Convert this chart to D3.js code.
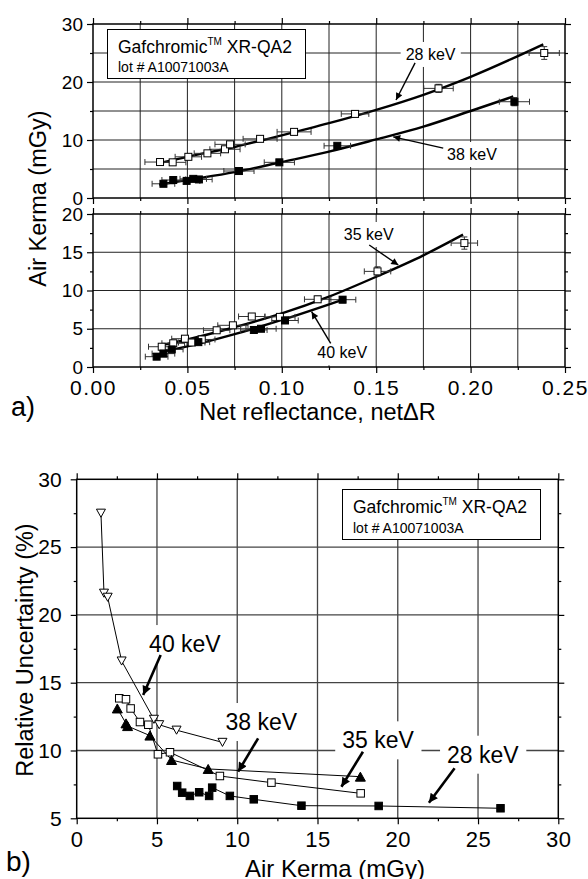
<!DOCTYPE html>
<html><head><meta charset="utf-8">
<script src="https://cdn.jsdelivr.net/npm/d3@7"></script>
<style>body{margin:0;background:#fff}svg{display:block;font-family:"Liberation Sans",Arial,sans-serif}</style>
</head><body><svg id="c" width="588" height="879"></svg>
<script>
// ---------- Panel a) top: Air Kerma vs net reflectance (28 keV, 38 keV) ----------
const a28_x  = [0.0355, 0.0422, 0.0505, 0.0606, 0.0699, 0.0726, 0.0885, 0.1065, 0.1388, 0.1830, 0.2390];
const a28_y  = [6.2, 6.15, 7.1, 7.7, 8.4, 9.25, 10.2, 11.4, 14.5, 18.9, 25.0];
const a28_xe = [0.008, 0.007, 0.007, 0.007, 0.008, 0.008, 0.009, 0.009, 0.0073, 0.0078, 0.008];
const a28_ye = [0.3, 0.3, 0.3, 0.3, 0.3, 0.4, 0.4, 0.4, 0.5, 0.7, 1.1];
const a38_x  = [0.0373, 0.0425, 0.0496, 0.0531, 0.0561, 0.0773, 0.0987, 0.1294, 0.2232];
const a38_y  = [2.45, 3.1, 2.95, 3.3, 3.2, 4.65, 6.15, 9.0, 16.6];
const a38_xe = [0.006, 0.006, 0.007, 0.007, 0.007, 0.008, 0.008, 0.007, 0.008];
const a38_ye = [0.2, 0.2, 0.2, 0.2, 0.2, 0.3, 0.3, 0.4, 0.7];
// fitted curves (samples)
const fit28_x = [0.035, 0.05, 0.075, 0.1, 0.125, 0.15, 0.175, 0.2, 0.2385];
const fit28_y = [6.0, 7.1, 8.8, 10.8, 12.9, 15.2, 17.8, 20.9, 26.5];
const fit38_x = [0.035, 0.05, 0.075, 0.1, 0.125, 0.15, 0.175, 0.2, 0.2226];
const fit38_y = [2.3, 3.1, 4.45, 6.2, 8.0, 10.1, 12.3, 15.0, 17.5];

// ---------- Panel a) bottom: 35 keV, 40 keV ----------
const a35_x  = [0.0364, 0.0425, 0.0487, 0.0523, 0.0576, 0.0655, 0.0741, 0.0841, 0.0990, 0.1190, 0.1507, 0.1967];
const a35_y  = [2.65, 3.1, 3.7, 3.2, 3.6, 4.8, 5.45, 6.6, 6.55, 8.85, 12.5, 16.2];
const a35_xe = [0.007, 0.006, 0.007, 0.007, 0.007, 0.007, 0.008, 0.007, 0.008, 0.007, 0.007, 0.007];
const a35_ye = [0.2, 0.2, 0.2, 0.2, 0.2, 0.3, 0.3, 0.3, 0.3, 0.4, 0.6, 0.8];
const a40_x  = [0.0337, 0.0373, 0.0417, 0.0558, 0.0852, 0.0890, 0.1017, 0.1322];
const a40_y  = [1.35, 1.75, 2.3, 3.25, 4.84, 5.0, 6.08, 8.8];
const a40_xe = [0.006, 0.006, 0.006, 0.006, 0.007, 0.008, 0.007, 0.007];
const a40_ye = [0.15, 0.15, 0.2, 0.2, 0.3, 0.3, 0.3, 0.4];
const fit35_x = [0.037, 0.05, 0.075, 0.1, 0.125, 0.15, 0.175, 0.196];
const fit35_y = [2.9, 3.6, 5.2, 7.0, 9.2, 11.8, 14.6, 17.3];
const fit40_x = [0.037, 0.05, 0.075, 0.1, 0.134];
const fit40_y = [2.0, 2.7, 4.3, 6.15, 8.95];

// ---------- Panel b): relative uncertainty vs air kerma ----------
const b40_x = [1.51, 1.70, 1.93, 2.80, 4.81, 5.14, 6.22, 9.08];
const b40_y = [27.5, 21.6, 21.3, 16.6, 12.3, 11.9, 11.5, 10.6];
const b35_x = [2.53, 3.07, 3.17, 4.56, 5.91, 8.19, 17.67];
const b35_y = [13.1, 12.0, 11.8, 11.1, 9.3, 8.64, 8.07];
const b38_x = [2.65, 3.07, 3.36, 3.94, 4.46, 5.06, 5.81, 8.92, 12.13, 17.69];
const b38_y = [13.85, 13.78, 13.1, 12.1, 11.9, 9.72, 9.87, 8.12, 7.63, 6.84];
const b28_x = [6.26, 6.57, 7.05, 7.63, 8.25, 8.44, 9.54, 11.03, 14.0, 18.81, 26.4];
const b28_y = [7.38, 6.89, 6.65, 6.92, 6.65, 7.26, 6.65, 6.4, 5.93, 5.91, 5.74];

// tick values
const aXTicks = [0, 0.05, 0.10, 0.15, 0.20, 0.25];
const aXTickLabels = ["0.00", "0.05", "0.10", "0.15", "0.20", "0.25"];
const aY1Ticks = [0, 10, 20, 30];
const aY2Ticks = [0, 5, 10, 15, 20];
const bXTicks = [0, 5, 10, 15, 20, 25, 30];
const bYTicks = [5, 10, 15, 20, 25, 30];

// annotations (data units)
const annA = [
  {panel: 1, text: "28 keV", x: 0.1788, y: 23.8, ax: 0.1706, ay: 23.3, tx: 0.1605, ty: 16.9},
  {panel: 1, text: "38 keV", x: 0.2007, y: 6.55, ax: 0.1855, ay: 8.6, tx: 0.159, ty: 10.55},
  {panel: 2, text: "35 keV", x: 0.146, y: 16.6, ax: 0.1463, ay: 15.95, tx: 0.1617, ty: 13.33},
  {panel: 2, text: "40 keV", x: 0.132, y: 1.14, ax: 0.1259, ay: 3.1, tx: 0.1158, ty: 7.23}
];
const annB = [
  {text: "40 keV", x: 6.74, y: 17.26, ax: 5.23, ay: 17.04, tx: 4.14, ty: 14.09},
  {text: "38 keV", x: 11.5, y: 11.51, ax: 11.3, ay: 10.9, tx: 10.06, ty: 8.44},
  {text: "35 keV", x: 18.77, y: 10.16, ax: 17.83, ay: 9.91, tx: 16.49, ty: 7.33},
  {text: "28 keV", x: 25.3, y: 9.1, ax: 23.54, ay: 8.69, tx: 21.94, ty: 6.15}
];

const svg = d3.select("#c");
const xA = d3.scaleLinear().domain([0, 0.25]).range([93, 565]);
const yA1 = d3.scaleLinear().domain([0, 30]).range([198, 24]);
const yA2 = d3.scaleLinear().domain([0, 20]).range([367, 214]);
const xB = d3.scaleLinear().domain([0, 30]).range([76.7, 558.3]);
const yB = d3.scaleLinear().domain([5, 30]).range([818.3, 479.3]);

// markers
const defs = svg.append("defs");
defs.append("marker").attr("id", "hs").attr("markerUnits", "userSpaceOnUse")
  .attr("viewBox", "0 0 10 10").attr("refX", 10).attr("refY", 5)
  .attr("markerWidth", 9).attr("markerHeight", 7).attr("orient", "auto")
  .append("path").attr("d", "M0,0L10,5L0,10z").attr("fill", "#000");
defs.append("marker").attr("id", "hb").attr("markerUnits", "userSpaceOnUse")
  .attr("viewBox", "0 0 10 10").attr("refX", 10).attr("refY", 5)
  .attr("markerWidth", 13).attr("markerHeight", 9).attr("orient", "auto")
  .append("path").attr("d", "M0,0L10,5L0,10z").attr("fill", "#000");

const zip = (xs, ys) => xs.map((x, i) => ({x, y: ys[i]}));
const range = (a, b, s) => d3.range(a, b + s / 2, s);

function grid(g, xs, ys, xv, yv, col, w) {
  const [x0, x1] = xs.range(), [y0, y1] = ys.range();
  g.selectAll(null).data(xv).join("line")
    .attr("x1", d => xs(d)).attr("x2", d => xs(d)).attr("y1", y0).attr("y2", y1)
    .attr("stroke", col).attr("stroke-width", w);
  g.selectAll(null).data(yv).join("line")
    .attr("y1", d => ys(d)).attr("y2", d => ys(d)).attr("x1", x0).attr("x2", x1)
    .attr("stroke", col).attr("stroke-width", w);
}

function ticks(g, xs, ys, o) {
  const [x0, x1] = xs.range(), [yb, yt] = ys.range();
  const add = (axis, tr) => {
    const a = g.append("g").attr("transform", tr).call(axis);
    a.select(".domain").remove();
    a.selectAll(".tick line").attr("stroke", "#000").attr("stroke-width", 1.2);
    return a;
  };
  if (o.bottom) {
    add(d3.axisBottom(xs).tickValues(o.xMinor).tickSize(3).tickFormat(""), `translate(0,${yb})`);
    const a = add(d3.axisBottom(xs).tickValues(o.xMajor).tickSize(6)
      .tickFormat((d, i) => o.xLabels ? o.xLabels[i] : ""), `translate(0,${yb})`);
    a.selectAll("text").attr("font-size", o.xFont).attr("fill", "#000")
      .attr("font-family", "Liberation Sans, Arial, sans-serif")
      .attr("letter-spacing", o.xLS || 0)
      .attr("y", o.xLabY).attr("dy", 0);
  }
  if (o.top) {
    add(d3.axisTop(xs).tickValues(o.xMinor).tickSize(3).tickFormat(""), `translate(0,${yt})`);
    add(d3.axisTop(xs).tickValues(o.xMajor).tickSize(6).tickFormat(""), `translate(0,${yt})`);
  }
  add(d3.axisLeft(ys).tickValues(o.yMinor).tickSize(3).tickFormat(""), `translate(${x0},0)`);
  const l = add(d3.axisLeft(ys).tickValues(o.yMajor).tickSize(6).tickFormat(d => String(d)), `translate(${x0},0)`);
  l.selectAll("text").attr("font-size", o.yFont).attr("fill", "#000")
    .attr("font-family", "Liberation Sans, Arial, sans-serif").attr("x", -o.yLabX);
  add(d3.axisRight(ys).tickValues(o.yMinor).tickSize(3).tickFormat(""), `translate(${x1},0)`);
  add(d3.axisRight(ys).tickValues(o.yMajor).tickSize(6).tickFormat(""), `translate(${x1},0)`);
  g.append("rect").attr("x", x0).attr("y", yt).attr("width", x1 - x0).attr("height", yb - yt)
    .attr("fill", "none").attr("stroke", "#000").attr("stroke-width", 1.5);
}

function errBars(g, xs, ys, xv, yv, xe, ye) {
  const d = xv.map((x, i) => ({x, y: yv[i], xe: xe[i], ye: ye[i]}));
  const e = g.append("g").attr("stroke", "#333").attr("stroke-width", 1);
  d.forEach(p => {
    const cx = xs(p.x), cy = ys(p.y), l = xs(p.x - p.xe), r = xs(p.x + p.xe);
    const t = ys(p.y + p.ye), b = ys(p.y - p.ye);
    e.append("line").attr("x1", l).attr("x2", r).attr("y1", cy).attr("y2", cy);
    e.append("line").attr("x1", l).attr("x2", l).attr("y1", cy - 3).attr("y2", cy + 3);
    e.append("line").attr("x1", r).attr("x2", r).attr("y1", cy - 3).attr("y2", cy + 3);
    e.append("line").attr("x1", cx).attr("x2", cx).attr("y1", t).attr("y2", b);
    e.append("line").attr("x1", cx - 3).attr("x2", cx + 3).attr("y1", t).attr("y2", t);
    e.append("line").attr("x1", cx - 3).attr("x2", cx + 3).attr("y1", b).attr("y2", b);
  });
}

function squares(g, xs, ys, xv, yv, filled, size) {
  g.selectAll(null).data(zip(xv, yv)).join("rect")
    .attr("x", d => xs(d.x) - size / 2).attr("y", d => ys(d.y) - size / 2)
    .attr("width", size).attr("height", size)
    .attr("fill", filled ? "#000" : "#fff").attr("stroke", "#000").attr("stroke-width", 1);
}
function triangles(g, xs, ys, xv, yv, down, filled, size) {
  const h = size * 0.9;
  g.selectAll(null).data(zip(xv, yv)).join("path")
    .attr("d", d => {
      const cx = xs(d.x), cy = ys(d.y);
      return down
        ? `M${cx - size / 2},${cy - h / 2}L${cx + size / 2},${cy - h / 2}L${cx},${cy + h / 2}Z`
        : `M${cx - size / 2},${cy + h / 2}L${cx + size / 2},${cy + h / 2}L${cx},${cy - h / 2}Z`;
    })
    .attr("fill", filled ? "#000" : "#fff").attr("stroke", "#000").attr("stroke-width", 1);
}

function label(g, x, y, text, size, pad) {
  const t = g.append("text").attr("x", x).attr("y", y).attr("text-anchor", "middle")
    .attr("font-size", size).attr("fill", "#000").text(text);
  const bb = t.node().getBBox();
  g.insert("rect", () => t.node()).attr("x", bb.x - pad[0]).attr("y", bb.y - pad[1])
    .attr("width", bb.width + 2 * pad[0]).attr("height", bb.height + 2 * pad[1]).attr("fill", "#fff");
}

function legendBox(g, x, y, w, h, tx, b1, b2) {
  g.append("rect").attr("x", x).attr("y", y).attr("width", w).attr("height", h)
    .attr("fill", "#fff").attr("stroke", "#000").attr("stroke-width", 1);
  const t = g.append("text").attr("x", tx).attr("y", b1).attr("font-size", 17.5).attr("fill", "#000");
  t.append("tspan").text("Gafchromic");
  t.append("tspan").attr("font-size", 10).attr("dy", -8).text("TM");
  t.append("tspan").attr("dy", 8).text(" XR-QA2");
  g.append("text").attr("x", tx).attr("y", b2).attr("font-size", 14).attr("fill", "#000").text("lot # A10071003A");
}

// ===================== PANEL A =====================
const gA = svg.append("g");
grid(gA, xA, yA1, range(0.025, 0.225, 0.025), [5, 10, 15, 20, 25], "#222", 1);
grid(gA, xA, yA2, range(0.025, 0.225, 0.025), [5, 10, 15], "#222", 1);
legendBox(gA, 107.5, 29.5, 198, 49, 118, 52.5, 72);
annA.forEach(a => {
  const ys = a.panel === 1 ? yA1 : yA2;
  label(gA, xA(a.x), ys(a.y), a.text, 16, [5, 4]);
});
const lineA = (ys) => d3.line().x(d => xA(d.x)).y(d => ys(d.y)).curve(d3.curveMonotoneX);
[[fit28_x, fit28_y, yA1], [fit38_x, fit38_y, yA1], [fit35_x, fit35_y, yA2], [fit40_x, fit40_y, yA2]]
  .forEach(([xv, yv, ys]) => gA.append("path").datum(zip(xv, yv)).attr("d", lineA(ys))
    .attr("fill", "none").attr("stroke", "#000").attr("stroke-width", 2.4));
errBars(gA, xA, yA1, a28_x, a28_y, a28_xe, a28_ye);
errBars(gA, xA, yA1, a38_x, a38_y, a38_xe, a38_ye);
errBars(gA, xA, yA2, a35_x, a35_y, a35_xe, a35_ye);
errBars(gA, xA, yA2, a40_x, a40_y, a40_xe, a40_ye);
squares(gA, xA, yA1, a28_x, a28_y, false, 7);
squares(gA, xA, yA1, a38_x, a38_y, true, 7);
squares(gA, xA, yA2, a35_x, a35_y, false, 7);
squares(gA, xA, yA2, a40_x, a40_y, true, 7);
annA.forEach(a => {
  const ys = a.panel === 1 ? yA1 : yA2;
  gA.append("line").attr("x1", xA(a.ax)).attr("y1", ys(a.ay)).attr("x2", xA(a.tx)).attr("y2", ys(a.ty))
    .attr("stroke", "#000").attr("stroke-width", 1.4).attr("marker-end", "url(#hs)");
});
ticks(gA, xA, yA1, {bottom: true, top: true, xMajor: aXTicks, xMinor: range(0.025, 0.225, 0.05),
  yMajor: aY1Ticks, yMinor: [5, 15, 25], yFont: 19, yLabX: 10, xFont: 20});
ticks(gA, xA, yA2, {bottom: true, top: true, xMajor: aXTicks, xMinor: range(0.025, 0.225, 0.05),
  xLabels: aXTickLabels, xFont: 21, xLS: 1.5, xLabY: 28,
  yMajor: aY2Ticks, yMinor: [2.5, 7.5, 12.5, 17.5], yFont: 19, yLabX: 10});
gA.append("text").attr("transform", "translate(46,198.5) rotate(-90)").attr("text-anchor", "middle")
  .attr("font-size", 23.5).attr("fill", "#000").text("Air Kerma (mGy)");
gA.append("text").attr("x", 317.5).attr("y", 420).attr("text-anchor", "middle")
  .attr("font-size", 23.5).attr("fill", "#000").text("Net reflectance, net\u0394R");
gA.append("text").attr("x", 11).attr("y", 416).attr("font-size", 27).attr("fill", "#000").text("a)");

// ===================== PANEL B =====================
const gB = svg.append("g");
grid(gB, xB, yB, [5, 10, 15, 20, 25], [10, 15, 20, 25], "#444", 1.3);
legendBox(gB, 342.5, 489.5, 198, 50, 353, 513, 533);
annB.forEach(a => label(gB, xB(a.x), yB(a.y), a.text, 23, [7, 6]));
const lineB = d3.line().x(d => xB(d.x)).y(d => yB(d.y));
[[b40_x, b40_y], [b35_x, b35_y], [b38_x, b38_y], [b28_x, b28_y]].forEach(([xv, yv]) =>
  gB.append("path").datum(zip(xv, yv)).attr("d", lineB).attr("fill", "none")
    .attr("stroke", "#000").attr("stroke-width", 1));
triangles(gB, xB, yB, b40_x, b40_y, true, false, 9);
squares(gB, xB, yB, b38_x, b38_y, false, 7.5);
squares(gB, xB, yB, b28_x, b28_y, true, 7.5);
triangles(gB, xB, yB, b35_x, b35_y, false, true, 10);
annB.forEach(a => gB.append("line").attr("x1", xB(a.ax)).attr("y1", yB(a.ay))
  .attr("x2", xB(a.tx)).attr("y2", yB(a.ty)).attr("stroke", "#000").attr("stroke-width", 2.6)
  .attr("marker-end", "url(#hb)"));
ticks(gB, xB, yB, {bottom: true, top: true, xMajor: bXTicks, xMinor: range(2.5, 27.5, 5),
  xLabels: bXTicks.map(String), xFont: 22, xLS: 0.5, xLabY: 28.5,
  yMajor: bYTicks, yMinor: range(7.5, 27.5, 5), yFont: 21, yLabX: 15});
gB.append("text").attr("transform", "translate(33,650) rotate(-90)").attr("text-anchor", "middle")
  .attr("font-size", 23.5).attr("fill", "#000").text("Relative Uncertainty (%)");
gB.append("text").attr("x", 335).attr("y", 877).attr("text-anchor", "middle")
  .attr("font-size", 24).attr("fill", "#000").text("Air Kerma (mGy)");
gB.append("text").attr("x", 6).attr("y", 871).attr("font-size", 28).attr("fill", "#000").text("b)");
</script></body></html>
